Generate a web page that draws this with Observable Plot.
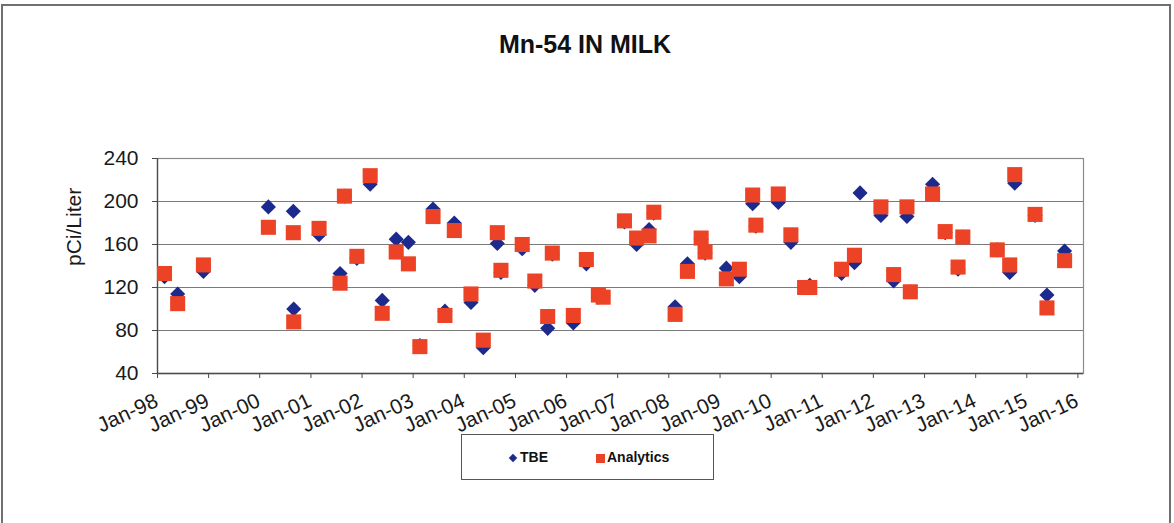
<!DOCTYPE html>
<html>
<head>
<meta charset="utf-8">
<script src="https://cdn.jsdelivr.net/npm/d3@7"></script>
<script src="https://cdn.jsdelivr.net/npm/@observablehq/plot@0.6"></script>
<style>
  html, body { margin: 0; padding: 0; background: #fff; }
  body { font-family: "Liberation Sans", Arial, sans-serif; }
  #wrap { position: relative; width: 1174px; height: 523px; overflow: hidden; background: #fff; }
  #chart { position: absolute; left: 0; top: 0; }
  #border { position: absolute; left: 1px; top: 4px; width: 1170px; height: 540px; border: 2px solid #707070; box-sizing: border-box; }
  #title { position: absolute; left: 385px; width: 400px; top: 32px; text-align: center; font-weight: bold; font-size: 25px; line-height: 25px; color: #111; }
  #legend { position: absolute; left: 461px; top: 434px; width: 253px; height: 46px; border: 1px solid #555; box-sizing: border-box; }
  .lg { position: absolute; font-weight: bold; font-size: 14px; line-height: 14px; color: #111; top: 450px; white-space: nowrap; }
  .sw { position: absolute; }
</style>
</head>
<body>
<div id="wrap">
  <div id="chart"></div>
  <div id="border"></div>
  <div id="title"></div>
  <div id="legend"></div>
  <div id="legendItems"></div>
</div>
<script>
const chartTitle = "Mn-54 IN MILK";
const yLabel = "pCi/Liter";
const seriesNames = ["TBE", "Analytics"];
const seriesColors = ["#1c2a8e", "#ec4225"];

const sampleDates = [
  "1998-02-20","1998-05-25","1998-11-25","2000-03-03","2000-08-28","2000-08-31",
  "2001-02-28","2001-07-28","2001-08-28","2001-11-25","2002-02-28","2002-05-25",
  "2002-09-02","2002-11-28","2003-02-18","2003-05-23","2003-08-16","2003-10-22",
  "2004-02-18","2004-05-16","2004-08-24","2004-09-19","2005-02-18","2005-05-19",
  "2005-08-19","2005-09-21","2006-02-18","2006-05-22","2006-08-16","2006-09-19",
  "2007-02-18","2007-05-16","2007-08-13","2007-09-16","2008-02-15","2008-05-13",
  "2008-08-19","2008-09-16","2009-02-15","2009-05-19","2009-08-22","2009-09-14",
  "2010-02-21","2010-05-22","2010-08-28","2010-10-04","2011-05-19","2011-08-19",
  "2011-09-28","2012-02-24","2012-05-25","2012-08-28","2012-09-21","2013-02-27",
  "2013-05-28","2013-08-28","2013-10-01","2014-06-04","2014-09-01","2014-10-07",
  "2015-03-01","2015-05-25","2015-09-28"
];
const tbeValues = [
  130,114,135,195,191,100,
  169,133,205,147,216,108,
  165,162,66,193,98,180,
  106,64,161,134,156,122,
  82,151,87,142,111,112,
  181,160,174,189,102,142,
  165,152,138,130,198,177,
  199,162,120,122,133,143,
  208,187,126,186,116,216,
  171,137,167,155,134,217,
  187,113,154
];
const analyticsValues = [
  133,105,141,176,171,88,
  175,124,205,149,224,96,
  153,142,65,186,94,173,
  114,71,171,136,160,126,
  93,152,94,146,113,111,
  182,166,168,190,95,135,
  166,153,128,137,206,178,
  207,169,120,120,137,150,
  null,195,132,195,116,207,
  172,139,167,155,141,225,
  188,101,145
];

const yTicks = [40, 80, 120, 160, 200, 240];
const xTickYears = [1998,1999,2000,2001,2002,2003,2004,2005,2006,2007,2008,2009,2010,2011,2012,2013,2014,2015,2016];
const xTickLabels = ["Jan-98","Jan-99","Jan-00","Jan-01","Jan-02","Jan-03","Jan-04","Jan-05","Jan-06","Jan-07","Jan-08","Jan-09","Jan-10","Jan-11","Jan-12","Jan-13","Jan-14","Jan-15","Jan-16"];
const xDomain = ["1998-01-01", "2016-02-10"];

const parse = d3.utcParse("%Y-%m-%d");
const tbeRows = sampleDates.map((d, i) => ({date: parse(d), value: tbeValues[i]})).filter(r => r.value != null);
const anaRows = sampleDates.map((d, i) => ({date: parse(d), value: analyticsValues[i]})).filter(r => r.value != null);
const tickDates = xTickYears.map(y => new Date(Date.UTC(y, 0, 1)));
const x0 = parse(xDomain[0]), x1 = parse(xDomain[1]);

const plot = Plot.plot({
  width: 1174,
  height: 523,
  marginLeft: 157,
  marginRight: 91,
  marginTop: 158,
  marginBottom: 150,
  style: {fontFamily: "'Liberation Sans', Arial, sans-serif", fontSize: "21px", color: "#1a1a1a", background: "white"},
  x: {type: "utc", domain: [x0, x1]},
  y: {domain: [40, 240]},
  marks: [
    Plot.gridY({ticks: yTicks, stroke: "#7a7a7a", strokeOpacity: 1, strokeWidth: 1.2}),
    Plot.frame({stroke: "#8a8a8a", strokeWidth: 1.2}),
    Plot.ruleX([x0], {stroke: "#4a4a4a", strokeWidth: 1.3}),
    Plot.ruleY([40], {stroke: "#4a4a4a", strokeWidth: 1.3}),
    Plot.axisY({ticks: yTicks, tickSize: 5, tickPadding: 14, fontSize: 21, label: null, stroke: "#4a4a4a"}),
    Plot.axisX({ticks: tickDates, tickSize: 5, tickFormat: () => "", label: null, stroke: "#4a4a4a"}),
    Plot.text(tickDates, {x: d => d, frameAnchor: "bottom", text: (d, i) => xTickLabels[i], rotate: -25, textAnchor: "end", lineAnchor: "bottom", dx: 2, dy: 32, fontSize: 21, fill: "#1a1a1a"}),
    Plot.text([yLabel], {frameAnchor: "left", text: d => d, rotate: -90, dx: -83, fontSize: 21, fill: "#1a1a1a"}),
    Plot.dot(tbeRows, {x: "date", y: "value", symbol: "diamond2", r: 6.8, fill: seriesColors[0], stroke: "none"}),
    Plot.dot(anaRows, {x: "date", y: "value", symbol: "square", r: 8.5, fill: seriesColors[1], stroke: "none"})
  ]
});
document.getElementById("chart").appendChild(plot);

document.getElementById("title").textContent = chartTitle;

const li = document.getElementById("legendItems");
li.innerHTML =
  `<div class="sw" style="left:510px;top:455px;width:6px;height:6px;background:${seriesColors[0]};transform:rotate(45deg);"></div>` +
  `<div class="lg" style="left:520px;">${seriesNames[0]}</div>` +
  `<div class="sw" style="left:596px;top:454px;width:9px;height:9px;background:${seriesColors[1]};"></div>` +
  `<div class="lg" style="left:607px;">${seriesNames[1]}</div>`;
</script>
</body>
</html>
